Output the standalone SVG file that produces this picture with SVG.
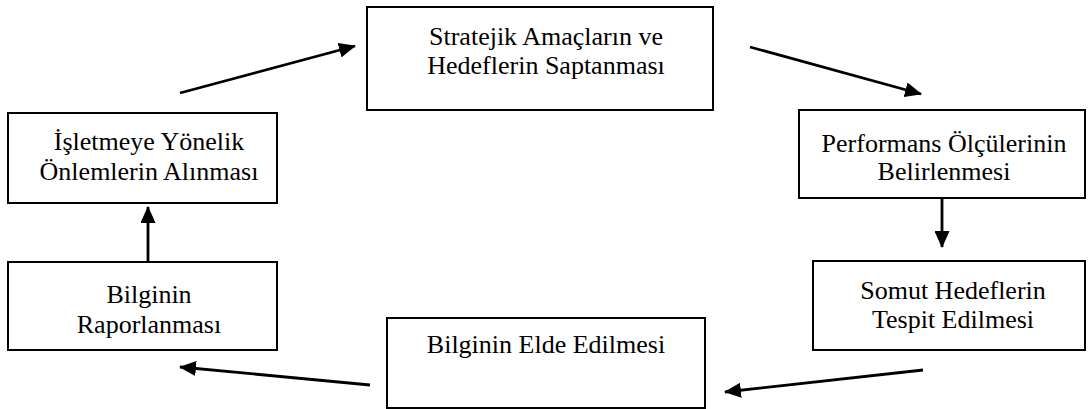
<svg xmlns="http://www.w3.org/2000/svg" width="1091" height="409" viewBox="0 0 1091 409">
  <style>
    .box { fill: #ffffff; stroke: #000000; stroke-width: 2; }
    .lbl { font-family: "Liberation Serif", "Times New Roman", serif; font-size: 26px; fill: #000000; text-anchor: middle; }
    .edge { stroke: #000000; stroke-width: 2.8; fill: none; marker-end: url(#head); }
  </style>
  <defs>
    <marker id="head" markerUnits="userSpaceOnUse" markerWidth="17" markerHeight="15" refX="16" refY="7.5" orient="auto">
      <path d="M0,0 L17,7.5 L0,15 z" fill="#000000"/>
    </marker>
  </defs>
  <rect width="1091" height="409" fill="#ffffff"/>

  <!-- process steps -->
  <g id="node-stratejik">
    <rect class="box" x="367" y="7" width="346" height="103"/>
    <text class="lbl" x="546" y="45">Stratejik Amaçların ve</text>
    <text class="lbl" x="546" y="74">Hedeflerin Saptanması</text>
  </g>
  <g id="node-performans">
    <rect class="box" x="799" y="110" width="286" height="88"/>
    <text class="lbl" x="944" y="152">Performans Ölçülerinin</text>
    <text class="lbl" x="944" y="180">Belirlenmesi</text>
  </g>
  <g id="node-somut">
    <rect class="box" x="813" y="261" width="272" height="89"/>
    <text class="lbl" x="953" y="299">Somut Hedeflerin</text>
    <text class="lbl" x="953" y="328">Tespit Edilmesi</text>
  </g>
  <g id="node-elde">
    <rect class="box" x="387" y="318" width="318" height="90"/>
    <text class="lbl" x="546" y="353">Bilginin Elde Edilmesi</text>
  </g>
  <g id="node-raporlanmasi">
    <rect class="box" x="8" y="262" width="269" height="88"/>
    <text class="lbl" x="149" y="303">Bilginin</text>
    <text class="lbl" x="149" y="333">Raporlanması</text>
  </g>
  <g id="node-onlemler">
    <rect class="box" x="8" y="113" width="269" height="90"/>
    <text class="lbl" x="149" y="150">İşletmeye Yönelik</text>
    <text class="lbl" x="149" y="180">Önlemlerin Alınması</text>
  </g>

  <!-- connectors -->
  <g id="connectors">
    <line class="edge" x1="180" y1="93" x2="355" y2="46"/>
    <line class="edge" x1="750" y1="47" x2="921" y2="94"/>
    <line class="edge" x1="942" y1="198" x2="942" y2="247"/>
    <line class="edge" x1="923" y1="370" x2="725" y2="392"/>
    <line class="edge" x1="370" y1="385" x2="180" y2="367"/>
    <line class="edge" x1="148" y1="262" x2="148" y2="207"/>
  </g>
</svg>
